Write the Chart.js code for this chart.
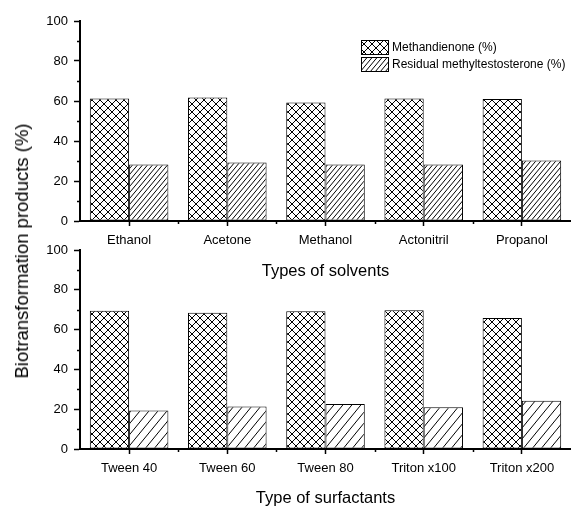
<!DOCTYPE html>
<html>
<head>
<meta charset="utf-8">
<title>Biotransformation products</title>
<script src="https://cdn.jsdelivr.net/npm/chart.js@4"></script>
<style>
  html, body { margin: 0; padding: 0; background: #fff; }
  #wrap { position: relative; width: 571px; height: 508px; overflow: hidden; }
  canvas { position: absolute; left: 0; }
  #topChart { top: 0; }
  #bottomChart { top: 230px; }
  #yTitle {
    position: absolute; left: 22px; top: 251px;
    transform: translate(-50%, -50%) rotate(-90deg);
    font: 18.5px Arial, "Liberation Sans", sans-serif; color: #000;
    white-space: nowrap;
  }
</style>
</head>
<body>
<div id="wrap">
  <canvas id="topChart" width="571" height="281"></canvas>
  <canvas id="bottomChart" width="571" height="278"></canvas>
  <div id="yTitle">Biotransformation products (%)</div>
</div>
<script>
const solvents = ["Ethanol", "Acetone", "Methanol", "Actonitril", "Propanol"];
const solventMethandienone = [61.3, 61.8, 59.2, 61.2, 61.0];
const solventResidual = [28.3, 29.2, 28.2, 28.3, 30.3];

const surfactants = ["Tween 40", "Tween 60", "Tween 80", "Triton x100", "Triton x200"];
const surfactantMethandienone = [69.5, 68.5, 69.2, 69.7, 65.8];
const surfactantResidual = [19.4, 21.3, 22.6, 21.0, 24.3];

const seriesNames = ["Methandienone (%)", "Residual methyltestosterone (%)"];
const yMin = 0, yMax = 100, yStep = 20;

const FONT = "Arial, 'Liberation Sans', sans-serif";

// crosshatch tile: both diagonals
function crossHatch(size) {
  const c = document.createElement("canvas");
  c.width = size; c.height = size;
  const g = c.getContext("2d");
  g.fillStyle = "#fff";
  g.fillRect(0, 0, size, size);
  g.strokeStyle = "#000";
  g.lineWidth = 1;
  g.beginPath();
  for (let k = -1; k <= 1; k++) {
    g.moveTo(k * size, 0); g.lineTo(k * size + size, size);
    g.moveTo(k * size, size); g.lineTo(k * size + size, 0);
  }
  g.stroke();
  return g.createPattern(c, "repeat");
}

// single "/" hatch, tile w x h
function slashHatch(w, h) {
  const c = document.createElement("canvas");
  c.width = w; c.height = h;
  const g = c.getContext("2d");
  g.fillStyle = "#fff";
  g.fillRect(0, 0, w, h);
  g.strokeStyle = "#000";
  g.lineWidth = 1;
  g.beginPath();
  for (let k = -1; k <= 1; k++) {
    g.moveTo(k * w, h); g.lineTo(k * w + w, 0);
  }
  g.stroke();
  return g.createPattern(c, "repeat");
}

const crossPattern = crossHatch(8);
const densePattern = slashHatch(5, 6);
const widePattern = slashHatch(9, 11);

// short minor ticks on both axes
const minorTicks = {
  id: "minorTicks",
  afterDraw(chart) {
    const ctx = chart.ctx;
    const x = chart.scales.x, y = chart.scales.y;
    ctx.save();
    ctx.strokeStyle = "#000";
    ctx.lineWidth = 1.5;
    ctx.beginPath();
    for (let v = yMin + yStep / 2; v < yMax; v += yStep) {
      const py = Math.round(y.getPixelForValue(v)) + 0.5;
      ctx.moveTo(y.right - 3, py); ctx.lineTo(y.right, py);
    }
    for (let i = 1; i < x.ticks.length; i++) {
      const px = Math.round(x.getPixelForValue(i - 0.5)) + 0.5;
      ctx.moveTo(px, x.top); ctx.lineTo(px, x.top + 3);
    }
    ctx.stroke();
    ctx.restore();
  }
};

// legend box in the upper right of the solvents panel
const patternLegend = {
  id: "patternLegend",
  afterDraw(chart) {
    const ctx = chart.ctx;
    const area = chart.chartArea;
    const bx = area.right - 210, by = area.top + 19;
    ctx.save();
    ctx.font = "12px " + FONT;
    ctx.textBaseline = "middle";
    chart.data.datasets.forEach((ds, i) => {
      const top = by + i * 17;
      ctx.fillStyle = ds.backgroundColor;
      ctx.fillRect(bx, top, 27, 14);
      ctx.strokeStyle = "#000";
      ctx.lineWidth = 1;
      ctx.strokeRect(bx + 0.5, top + 0.5, 27, 14);
      ctx.fillStyle = "#000";
      ctx.fillText(ds.label, bx + 31, top + 7.5);
    });
    ctx.restore();
  }
};

function makePanel(id, labels, first, second, hatch, xTitle, padTop, axisHeight, showLegend) {
  const plugins = [minorTicks];
  if (showLegend) plugins.push(patternLegend);
  return new Chart(document.getElementById(id), {
    type: "bar",
    data: {
      labels: labels,
      datasets: [
        {
          label: seriesNames[0],
          data: first,
          backgroundColor: crossPattern,
          borderColor: "#000",
          borderWidth: 1,
          borderSkipped: false,
        },
        {
          label: seriesNames[1],
          data: second,
          backgroundColor: hatch,
          borderColor: "#000",
          borderWidth: 1,
          borderSkipped: false,
        },
      ],
    },
    options: {
      responsive: false,
      animation: false,
      devicePixelRatio: 1,
      layout: { padding: { top: padTop, left: 0, right: 0, bottom: 0 } },
      plugins: {
        legend: { display: false },
        tooltip: { enabled: false },
      },
      datasets: {
        bar: { categoryPercentage: 0.8, barPercentage: 1.0 },
      },
      scales: {
        x: {
          offset: true,
          grid: {
            display: true,
            drawOnChartArea: false,
            drawTicks: true,
            tickLength: 5,
            tickWidth: 1.5,
            tickColor: "#000",
            offset: false,
          },
          border: { display: true, color: "#000", width: 2 },
          ticks: {
            color: "#000",
            font: { family: FONT, size: 13 },
            padding: 7,
            maxRotation: 0,
          },
          title: {
            display: true,
            text: xTitle,
            color: "#000",
            font: { family: FONT, size: 16.5 },
            padding: 0,
          },
          afterFit(scale) { scale.height = axisHeight; },
        },
        y: {
          min: yMin,
          max: yMax,
          grid: {
            display: true,
            drawOnChartArea: false,
            drawTicks: true,
            tickLength: 6,
            tickWidth: 1.5,
            tickColor: "#000",
          },
          border: { display: true, color: "#000", width: 2 },
          ticks: {
            stepSize: yStep,
            color: "#000",
            font: { family: FONT, size: 13 },
            padding: 6,
          },
          afterFit(scale) { scale.width = 80; },
        },
      },
    },
    plugins: plugins,
  });
}

makePanel("topChart", solvents, solventMethandienone, solventResidual,
  densePattern, "Types of solvents", 21, 60, true);
makePanel("bottomChart", surfactants, surfactantMethandienone, surfactantResidual,
  widePattern, "Type of surfactants", 20, 59, false);
</script>
</body>
</html>
